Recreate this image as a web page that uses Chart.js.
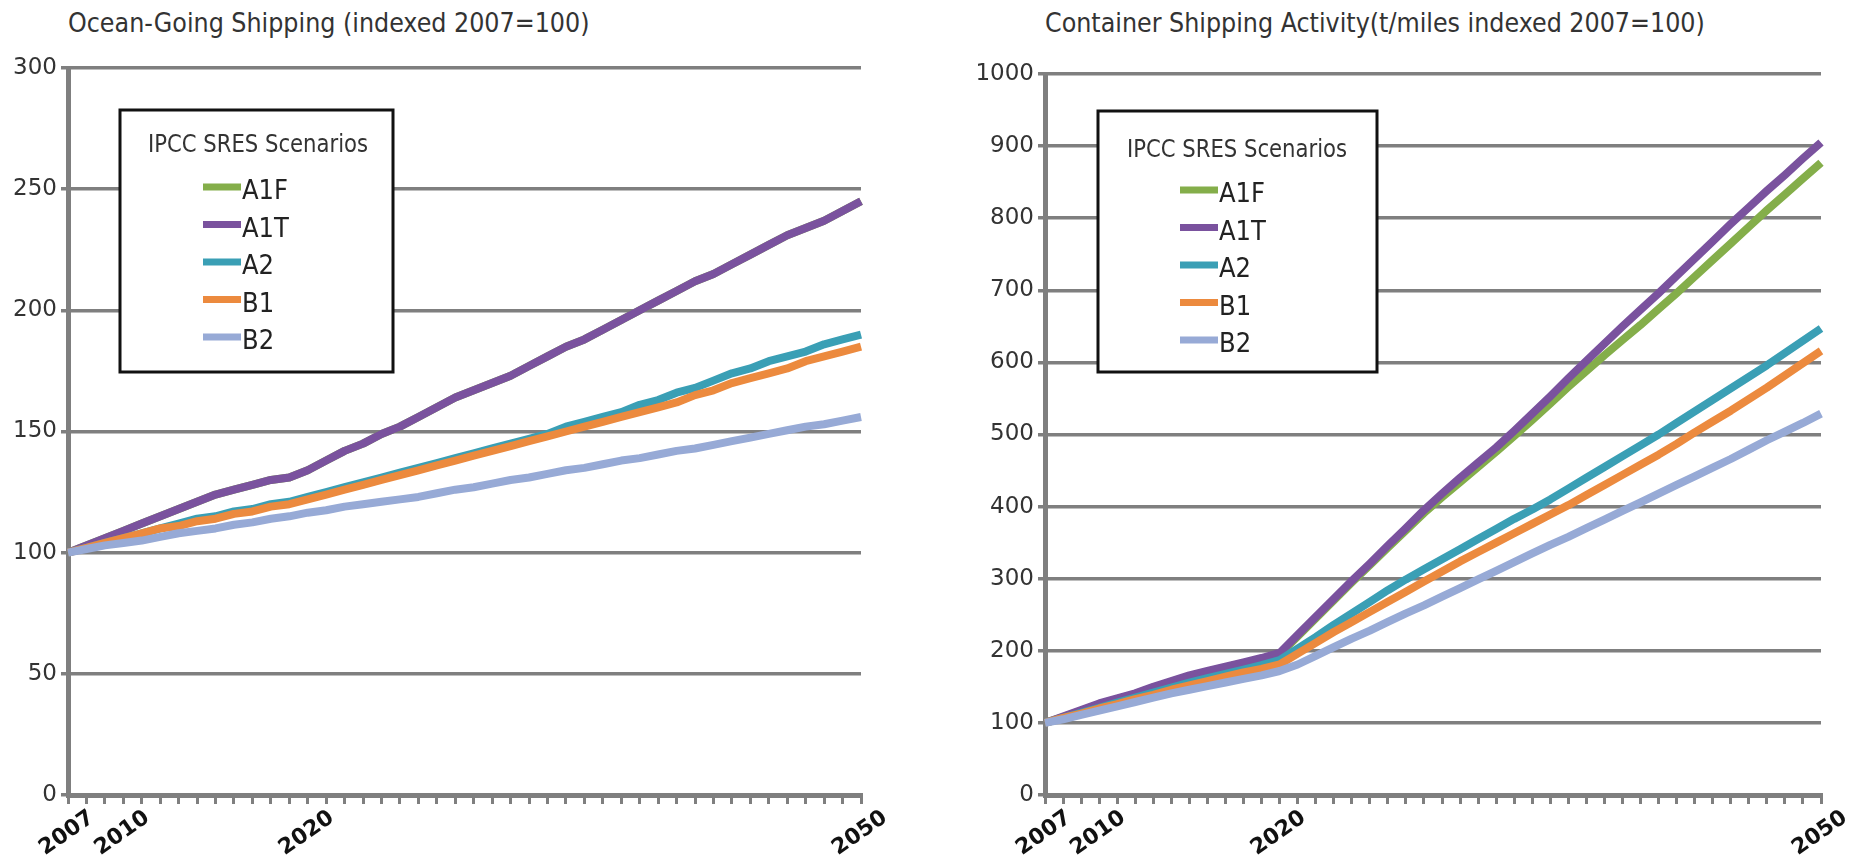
<!DOCTYPE html>
<html>
<head>
<meta charset="utf-8">
<script src="https://cdn.jsdelivr.net/npm/chart.js@4.4.1/dist/chart.umd.min.js"></script>
<style>
  body { margin: 0; background: #fff; width: 1869px; height: 864px; position: relative; overflow: hidden; }
  .titulo { position: absolute; font-family: 'Liberation Sans Narrow', 'DejaVu Sans Condensed', sans-serif; font-size: 26.5px; color: #333; white-space: nowrap; }
  canvas { position: absolute; top: 0; }
</style>
</head>
<body>
<div class="titulo" id="titulo-esq" style="left:68px; top:7px;">Ocean-Going Shipping (indexed 2007=100)</div>
<div class="titulo" id="titulo-dir" style="left:1045px; top:7px;">Container Shipping Activity(t/miles indexed 2007=100)</div>
<canvas id="graficoOceano" width="940" height="864" style="left:0px;"></canvas>
<canvas id="graficoConteiner" width="909" height="864" style="left:960px;"></canvas>
<script>
// anos do eixo x (2007..2050)
const anos = [2007, 2008, 2009, 2010, 2011, 2012, 2013, 2014, 2015, 2016, 2017, 2018, 2019, 2020,
  2021, 2022, 2023, 2024, 2025, 2026, 2027, 2028, 2029, 2030, 2031, 2032, 2033, 2034, 2035, 2036,
  2037, 2038, 2039, 2040, 2041, 2042, 2043, 2044, 2045, 2046, 2047, 2048, 2049, 2050];
const anosVisiveis = [2007, 2010, 2020, 2050];

const cenarios = ['A1F', 'A1T', 'A2', 'B1', 'B2'];
const cores = ['#84AE4A', '#7A529E', '#3A9FB5', '#EC8A3E', '#97AAD6'];

// Ocean-Going Shipping (indexed 2007=100)
const oceanoA1F = [100, 103, 106, 109, 112, 115, 118, 121, 124, 126, 128, 130, 131, 134, 138, 142, 145, 149, 152, 156, 160, 164, 167, 170, 173, 177, 181, 185, 188, 192, 196, 200, 204, 208, 212, 215, 219, 223, 227, 231, 234, 237, 241, 245];
const oceanoA1T = [100, 103, 106, 109, 112, 115, 118, 121, 124, 126, 128, 130, 131, 134, 138, 142, 145, 149, 152, 156, 160, 164, 167, 170, 173, 177, 181, 185, 188, 192, 196, 200, 204, 208, 212, 215, 219, 223, 227, 231, 234, 237, 241, 245];
const oceanoA2 = [100, 102, 104, 106, 108, 110, 112, 114, 115, 117, 118, 120, 121, 123, 125, 127, 129, 131, 133, 135, 137, 139, 141, 143, 145, 147, 149, 152, 154, 156, 158, 161, 163, 166, 168, 171, 174, 176, 179, 181, 183, 186, 188, 190];
const oceanoB1 = [100, 102, 104, 106, 108, 110, 111, 113, 114, 116, 117, 119, 120, 122, 124, 126, 128, 130, 132, 134, 136, 138, 140, 142, 144, 146, 148, 150, 152, 154, 156, 158, 160, 162, 165, 167, 170, 172, 174, 176, 179, 181, 183, 185];
const oceanoB2 = [100, 101.5, 103, 104, 105, 106.5, 108, 109, 110, 111.5, 112.5, 114, 115, 116.5, 117.5, 119, 120, 121, 122, 123, 124.5, 126, 127, 128.5, 130, 131, 132.5, 134, 135, 136.5, 138, 139, 140.5, 142, 143, 144.5, 146, 147.5, 149, 150.5, 152, 153, 154.5, 156];

// Container Shipping Activity (t/miles indexed 2007=100)
const conteinerA1F = [100, 108, 117, 126, 133, 140, 149, 157, 165, 171, 177, 183, 189, 195, 220, 245, 270, 295, 319, 343, 367, 391, 413, 434, 455, 476, 498, 520, 543, 566, 588, 610, 631, 652, 674, 696, 719, 742, 765, 788, 811, 833, 855, 877];
const conteinerA1T = [100, 109, 118, 127, 134, 141, 150, 158, 166, 172, 178, 184, 190, 197, 222, 247, 272, 297, 321, 346, 370, 395, 418, 440, 461, 482, 505, 529, 553, 578, 602, 626, 650, 673, 696, 720, 744, 768, 792, 815, 838, 860, 883, 905];
const conteinerA2 = [100, 107, 114, 121, 128, 135, 142, 149, 156, 162, 168, 174, 180, 187, 203, 219, 236, 252, 268, 284, 299, 313, 327, 341, 355, 369, 383, 396, 410, 425, 440, 455, 470, 485, 500, 516, 532, 548, 564, 580, 596, 613, 630, 647];
const conteinerB1 = [100, 107, 113, 120, 126, 133, 139, 146, 152, 158, 164, 170, 175, 181, 196, 211, 226, 240, 254, 268, 282, 296, 310, 324, 337, 350, 363, 376, 389, 402, 416, 430, 444, 458, 472, 487, 503, 518, 533, 549, 565, 582, 599, 616];
const conteinerB2 = [100, 105, 111, 117, 123, 129, 135, 141, 146, 151, 156, 161, 166, 172, 181, 193, 205, 217, 228, 240, 252, 263, 275, 287, 299, 311, 323, 335, 347, 358, 370, 382, 394, 406, 418, 430, 442, 454, 466, 479, 492, 504, 516, 529];

// legenda em caixa (estilo Excel) desenhada dentro da área do gráfico
const legendaCaixa = {
    id: 'legendaCaixa',
    afterDatasetsDraw(chart, args, opts) {
        const { ctx, chartArea } = chart;
        const x = chartArea.left + opts.x;
        const y = chartArea.top + opts.y;
        ctx.save();
        ctx.fillStyle = '#fff';
        ctx.fillRect(x, y, opts.w, opts.h);
        ctx.lineWidth = 3;
        ctx.strokeStyle = '#111';
        ctx.strokeRect(x, y, opts.w, opts.h);

        ctx.fillStyle = '#333';
        ctx.textBaseline = 'middle';
        ctx.textAlign = 'left';
        ctx.font = "25px 'Liberation Sans Narrow', 'DejaVu Sans Condensed', sans-serif";
        ctx.fillText('IPCC SRES Scenarios', x + opts.tituloX, y + opts.tituloY, 220);

        ctx.font = "27px 'Liberation Sans Narrow', 'DejaVu Sans Condensed', sans-serif";
        chart.data.datasets.forEach((ds, i) => {
            const ly = y + opts.linhaY + i * 37.5;
            ctx.strokeStyle = ds.borderColor;
            ctx.lineWidth = 7;
            ctx.beginPath();
            ctx.moveTo(x + opts.linhaX, ly);
            ctx.lineTo(x + opts.linhaX + 38, ly);
            ctx.stroke();
            ctx.fillStyle = '#222';
            ctx.fillText(ds.label, x + opts.linhaX + 39, ly + 5);
        });
        ctx.restore();
    }
};

function montarDatasets(series) {
    return cenarios.map((nome, i) => ({
        label: nome,
        data: series[i],
        borderColor: cores[i],
        backgroundColor: cores[i],
        borderWidth: 8,
        pointRadius: 0,
        tension: 0,
        borderJoinStyle: 'round',
        order: cenarios.length - i // últimas séries ficam por cima, como no Excel
    }));
}

function criarGrafico(idCanvas, series, maxY, passo, larguraY, padding, legenda) {
    const ctx = document.getElementById(idCanvas).getContext('2d');
    return new Chart(ctx, {
        type: 'line',
        data: { labels: anos, datasets: montarDatasets(series) },
        plugins: [legendaCaixa],
        options: {
            responsive: false,
            animation: false,
            layout: { padding: padding },
            plugins: {
                legend: { display: false },
                tooltip: { enabled: false },
                legendaCaixa: legenda
            },
            scales: {
                x: {
                    offset: false,
                    afterFit(scale) { scale.height = 69; },
                    border: { color: '#7f7f7f', width: 5 },
                    grid: { drawOnChartArea: false, drawTicks: true, tickLength: 9, color: '#7f7f7f', lineWidth: 3 },
                    ticks: {
                        autoSkip: false,
                        maxRotation: 35,
                        minRotation: 35,
                        labelOffset: 24,
                        padding: 1,
                        color: '#111',
                        font: { family: "'DejaVu Sans'", size: 22, weight: 'bold' },
                        callback: function (valor, idx) {
                            const ano = anos[idx];
                            return anosVisiveis.includes(ano) ? String(ano) : '';
                        }
                    }
                },
                y: {
                    min: 0,
                    max: maxY,
                    afterFit(scale) { scale.width = larguraY; },
                    border: { color: '#7f7f7f', width: 5 },
                    grid: { color: '#7f7f7f', lineWidth: 3.5, tickLength: 7 },
                    ticks: {
                        stepSize: passo,
                        padding: 4,
                        color: '#333',
                        font: { family: "'DejaVu Sans'", size: 23 },
                        callback: (valor) => String(valor)
                    }
                }
            }
        }
    });
}

criarGrafico('graficoOceano',
    [oceanoA1F, oceanoA1T, oceanoA2, oceanoB1, oceanoB2],
    300, 50, 68,
    { top: 68, right: 79, bottom: 0, left: 0 },
    { x: 52, y: 42, w: 273, h: 262, tituloX: 28, tituloY: 35, linhaX: 83, linhaY: 77 });

criarGrafico('graficoConteiner',
    [conteinerA1F, conteinerA1T, conteinerA2, conteinerB1, conteinerB2],
    1000, 100, 85,
    { top: 74, right: 48, bottom: 0, left: 0 },
    { x: 53, y: 37, w: 279, h: 261, tituloX: 29, tituloY: 39, linhaX: 82, linhaY: 79 });
</script>
</body>
</html>
